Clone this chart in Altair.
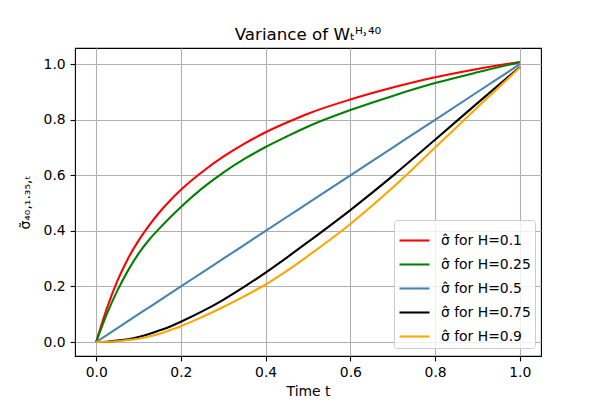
import altair as alt
import pandas as pd

# time grid
t_vals = [0, 0.025, 0.05, 0.075, 0.1, 0.125, 0.15, 0.175, 0.2, 0.25, 0.3, 0.35, 0.4, 0.45, 0.5,
          0.6, 0.7, 0.8, 0.9, 1.0]

# series values
h_010 = [0, 0.12, 0.22, 0.30, 0.365, 0.42, 0.468, 0.51, 0.548, 0.612, 0.667, 0.714, 0.755, 0.79, 0.822,
         0.873, 0.916, 0.953, 0.983, 1.008]
h_025 = [0, 0.10, 0.185, 0.257, 0.318, 0.368, 0.41, 0.449, 0.486, 0.553, 0.61, 0.659, 0.702, 0.74, 0.776,
         0.835, 0.886, 0.932, 0.971, 1.007]
h_050 = [0, 0.025, 0.05, 0.075, 0.1, 0.125, 0.15, 0.175, 0.2, 0.25, 0.3, 0.35, 0.4, 0.45, 0.5,
         0.6, 0.7, 0.8, 0.9, 1.0]
h_075 = [0, 0.001, 0.005, 0.01, 0.018, 0.029, 0.042, 0.056, 0.073, 0.11, 0.152, 0.199, 0.25, 0.304, 0.36,
         0.475, 0.598, 0.728, 0.86, 0.99]
h_090 = [0, 0.0008, 0.003, 0.007, 0.012, 0.02, 0.03, 0.043, 0.057, 0.09, 0.126, 0.165, 0.207, 0.256, 0.31,
         0.425, 0.556, 0.70, 0.845, 0.988]

labels = ["σ̂ for H=0.1", "σ̂ for H=0.25", "σ̂ for H=0.5", "σ̂ for H=0.75", "σ̂ for H=0.9"]
colors = ["red", "green", "steelblue", "black", "orange"]
series = [h_010, h_025, h_050, h_075, h_090]

rows = []
for k, (lab, vals) in enumerate(zip(labels, series)):
    for t, v in zip(t_vals, vals):
        rows.append({"t": t, "v": v, "series": lab, "k": k})
df = pd.DataFrame(rows)

FONT = "DejaVu Sans"
FS = 13.9

chart = alt.Chart(df).mark_line(strokeWidth=2.08, interpolate="monotone").encode(
    x=alt.X("t:Q",
            scale=alt.Scale(domain=[-0.05, 1.05], nice=False, zero=False),
            axis=alt.Axis(values=[0, 0.2, 0.4, 0.6, 0.8, 1.0], format=".1f", title="Time t",
                          titlePadding=5)),
    y=alt.Y("v:Q",
            scale=alt.Scale(domain=[-0.0504, 1.0584], nice=False, zero=False),
            axis=alt.Axis(values=[0, 0.2, 0.4, 0.6, 0.8, 1.0], format=".1f",
                          title="σ̃₄₀,₁.₃₅,ₜ", titlePadding=11)),
    color=alt.Color("series:N",
                    scale=alt.Scale(domain=labels, range=colors),
                    sort=labels,
                    legend=alt.Legend(title=None, orient="none", legendX=319, legendY=172,
                                      symbolType="stroke", symbolSize=900, symbolStrokeWidth=2.08,
                                      labelFontSize=FS, labelFont=FONT, labelColor="black",
                                      rowPadding=-0.3, padding=4, labelOffset=10,
                                      strokeColor="#cccccc", fillColor="rgba(255,255,255,0.8)",
                                      cornerRadius=3, labelLimit=0)),
    detail="k:O",
).properties(
    width=466,
    height=308,
    autosize=alt.AutoSizeParams(type="none"),
    padding={"left": 67, "top": 40, "right": 50, "bottom": 44},
    title=alt.TitleParams(text="Variance of Wₜᴴ˒⁴⁰", fontSize=16.7, font=FONT, fontWeight="normal",
                          anchor="middle", offset=8, dy=17, baseline="alphabetic", color="black"),
).configure_view(
    stroke="black", strokeWidth=1.1
).configure_axis(
    domain=False,
    grid=True, gridColor="#b0b0b0", gridWidth=1.1, gridOpacity=1,
    tickColor="black", tickSize=4.9, tickWidth=1.1,
    labelFont=FONT, labelFontSize=FS, labelColor="black", labelPadding=4.9,
    titleFont=FONT, titleFontSize=FS, titleFontWeight="normal", titleColor="black",
)

chart.save("out.html", embed_options={"renderer": "svg", "actions": False})
